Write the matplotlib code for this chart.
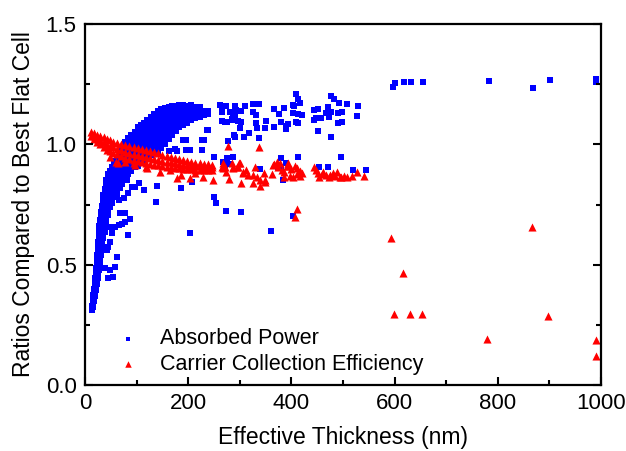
import matplotlib
matplotlib.use("Agg")
import matplotlib.pyplot as plt
from matplotlib.ticker import MultipleLocator

plt.rcParams['font.family'] = ['Liberation Sans', 'DejaVu Sans']

# absorbed power, dense band (columns of points)
band_x = [13, 15, 17, 19, 21, 23, 25, 27, 29, 31, 33, 35, 38, 41, 45, 49, 53, 57,
          62, 67, 72, 78, 84, 90, 96, 102, 108, 114, 120, 127, 134, 141, 148, 155,
          162, 169, 176, 183, 190, 198, 206, 214, 222, 230, 238]
band_y = [
    [0.31, 0.33],
    [0.325, 0.345, 0.365, 0.375],
    [0.35, 0.37, 0.39, 0.40],
    [0.37, 0.39, 0.41, 0.43, 0.445],
    [0.395, 0.415, 0.435, 0.455, 0.475, 0.485],
    [0.42, 0.44, 0.46, 0.48, 0.50, 0.52, 0.54],
    [0.445, 0.465, 0.485, 0.505, 0.525, 0.545, 0.565, 0.585, 0.595],
    [0.48, 0.50, 0.52, 0.54, 0.56, 0.58, 0.60, 0.62, 0.64, 0.66],
    [0.505, 0.525, 0.545, 0.565, 0.585, 0.605, 0.625, 0.645, 0.665, 0.685],
    [0.54, 0.56, 0.58, 0.60, 0.62, 0.64, 0.66, 0.68, 0.70, 0.72],
    [0.565, 0.585, 0.605, 0.625, 0.645, 0.665, 0.685, 0.705, 0.725, 0.745],
    [0.61, 0.63, 0.65, 0.67, 0.69, 0.71, 0.73, 0.75, 0.77, 0.79],
    [0.635, 0.655, 0.675, 0.695, 0.715, 0.735, 0.755, 0.775, 0.795, 0.815],
    [0.67, 0.69, 0.71, 0.73, 0.75, 0.77, 0.79, 0.81, 0.83, 0.85],
    [0.705, 0.725, 0.745, 0.765, 0.785, 0.805, 0.825, 0.845, 0.865, 0.875],
    [0.74, 0.76, 0.78, 0.80, 0.82, 0.84, 0.86, 0.88, 0.89],
    [0.755, 0.775, 0.795, 0.815, 0.835, 0.855, 0.875, 0.895, 0.905],
    [0.78, 0.80, 0.82, 0.84, 0.86, 0.88, 0.90, 0.92, 0.93],
    [0.795, 0.815, 0.835, 0.855, 0.875, 0.895, 0.915, 0.935, 0.945],
    [0.82, 0.84, 0.86, 0.88, 0.90, 0.92, 0.94, 0.96, 0.97],
    [0.835, 0.855, 0.875, 0.895, 0.915, 0.935, 0.955, 0.975, 0.985],
    [0.86, 0.88, 0.90, 0.92, 0.94, 0.96, 0.98, 1.00, 1.01],
    [0.875, 0.895, 0.915, 0.935, 0.955, 0.975, 0.995, 1.015, 1.025],
    [0.89, 0.91, 0.93, 0.95, 0.97, 0.99, 1.01, 1.03, 1.04],
    [0.905, 0.925, 0.945, 0.965, 0.985, 1.005, 1.025, 1.045, 1.05],
    [0.91, 0.93, 0.95, 0.97, 0.99, 1.01, 1.03, 1.05, 1.07],
    [0.925, 0.945, 0.965, 0.985, 1.005, 1.025, 1.045, 1.065, 1.08],
    [0.93, 0.95, 0.97, 0.99, 1.01, 1.03, 1.05, 1.07, 1.09],
    [0.945, 0.965, 0.985, 1.005, 1.025, 1.045, 1.065, 1.085, 1.10],
    [0.955, 0.975, 0.995, 1.015, 1.035, 1.055, 1.075, 1.095, 1.115],
    [0.965, 0.985, 1.005, 1.025, 1.045, 1.065, 1.085, 1.105, 1.125],
    [0.97, 0.99, 1.01, 1.03, 1.05, 1.07, 1.09, 1.11, 1.13, 1.14],
    [0.985, 1.005, 1.025, 1.045, 1.065, 1.085, 1.105, 1.125, 1.145],
    [1.00, 1.02, 1.04, 1.06, 1.08, 1.10, 1.12, 1.14, 1.15],
    [1.02, 1.04, 1.06, 1.08, 1.10, 1.12, 1.14, 1.155],
    [1.04, 1.06, 1.08, 1.10, 1.12, 1.14, 1.16],
    [1.055, 1.075, 1.095, 1.115, 1.135, 1.155, 1.16],
    [1.07, 1.09, 1.11, 1.13, 1.15, 1.165],
    [1.08, 1.10, 1.12, 1.14, 1.16, 1.165],
    [1.09, 1.11, 1.13, 1.15, 1.16],
    [1.10, 1.12, 1.14, 1.16, 1.165],
    [1.11, 1.13, 1.15, 1.155],
    [1.115, 1.135, 1.155],
    [1.12, 1.14],
    [1.125, 1.14],
]

# absorbed power, scattered points
power_x = [13, 39, 49, 58, 62, 55, 45, 45, 49, 42, 58, 65, 49, 52, 72, 78, 83, 78, 68,
           65, 75, 84, 91, 104, 114, 97, 58, 52, 55, 72, 81, 88,
           140, 138, 204, 162, 178, 195, 195, 230, 237, 250, 250, 253, 186, 208,
           190, 226, 239, 174, 203, 226, 262, 265, 271, 287, 276, 287, 268,
           266, 274, 266, 265, 276, 291, 293, 302, 311, 326, 337, 326, 331, 286,
           291, 284, 297, 302, 281, 331, 350, 334, 348, 318, 308, 290, 289, 278,
           337, 300, 366, 385, 376, 366, 379, 390, 393, 404, 405, 404, 408, 412,
           416, 413, 421, 408, 412, 390, 379, 389, 412, 375, 380, 339, 279, 271,
           444, 451, 443, 448, 457, 452, 467, 470, 477, 483, 493, 508, 477, 473,
           491, 499, 490, 498, 477, 530, 528, 496, 454, 470, 520, 544,
           274, 302, 361, 403, 383,
           597, 601, 619, 632, 656, 783, 869, 901, 990, 990]
power_y = [0.319, 0.485, 0.478, 0.492, 0.533, 0.450, 0.443, 0.575, 0.596, 0.562, 0.658,
           0.665, 0.658, 0.630, 0.671, 0.678, 0.623, 0.714, 0.714, 0.769, 0.775,
           0.796, 0.824, 0.838, 0.811, 0.824, 0.811, 0.769, 0.838, 0.838, 0.852,
           0.690,
           0.827, 0.762, 0.630, 0.972, 0.972, 1.017, 0.976, 1.017, 1.059, 0.949,
           0.783, 0.755, 0.817, 0.842, 1.018, 1.018, 1.059, 0.979, 0.976, 0.976,
           1.163, 1.135, 1.094, 1.101, 0.942, 0.949, 0.928,
           1.159, 1.157, 1.136, 1.095, 1.092, 1.159, 1.143, 1.138, 1.159, 1.167,
           1.166, 1.136, 1.122, 1.117, 1.121, 1.105, 1.095, 1.092, 1.133, 1.090,
           1.097, 1.069, 1.066, 1.046, 1.029, 1.029, 1.039, 1.015, 1.026, 1.066,
           1.148, 1.151, 1.125, 1.073, 1.094, 1.076, 1.083, 1.164, 1.157, 1.129,
           1.209, 1.188, 1.172, 1.124, 1.123, 1.094, 1.090, 1.063, 0.943, 0.923,
           0.946, 0.904, 0.904, 0.898, 0.920, 0.907,
           1.143, 1.146, 1.101, 1.111, 1.108, 1.057, 1.131, 1.154, 1.201, 1.187,
           1.173, 1.167, 1.133, 1.114, 1.129, 1.133, 1.090, 1.094, 1.029, 1.159,
           1.117, 0.948, 0.907, 0.904, 0.892, 0.892,
           0.724, 0.720, 0.640, 0.703, 0.852,
           1.240, 1.254, 1.257, 1.257, 1.257, 1.262, 1.232, 1.266, 1.272, 1.260]

# carrier collection efficiency, dense band
cce_band_x = [12, 18, 24, 30, 36, 42, 48, 55, 62, 70, 78, 86, 94, 102, 110, 118,
              126, 134, 142, 150, 158, 166, 174, 182, 190, 198, 206, 214, 222,
              230, 238, 246]
cce_band_y = [
    [1.035, 1.05], [1.02, 1.035, 1.047], [1.01, 1.025, 1.04], [1.0, 1.018, 1.035],
    [0.99, 1.01, 1.03], [0.978, 0.998, 1.022], [0.972, 0.992, 1.017],
    [0.965, 0.988, 1.011], [0.958, 0.982, 1.006], [0.95, 0.976, 1.002],
    [0.944, 0.97, 0.997], [0.937, 0.963, 0.993], [0.933, 0.96, 0.99],
    [0.929, 0.957, 0.986], [0.925, 0.952, 0.981], [0.921, 0.948, 0.977],
    [0.918, 0.945, 0.972], [0.915, 0.94, 0.967], [0.912, 0.936, 0.962],
    [0.908, 0.931, 0.957], [0.906, 0.928, 0.951], [0.904, 0.925, 0.947],
    [0.902, 0.921, 0.942], [0.9, 0.918, 0.937], [0.898, 0.915, 0.933],
    [0.897, 0.913, 0.93], [0.896, 0.911, 0.927], [0.895, 0.91, 0.924],
    [0.894, 0.908, 0.922], [0.894, 0.907, 0.92], [0.893, 0.905, 0.918],
    [0.893, 0.904, 0.915],
]

# carrier collection efficiency, scattered points
cce_x = [48, 61, 78, 94, 120, 145, 165, 178, 187, 203, 213, 229, 249, 63, 96, 119,
         265, 271, 274, 280, 287, 294, 298, 302, 307, 312, 316, 326, 329, 334, 339,
         347, 349, 362, 366, 374, 378, 381, 386, 391, 394, 400, 404, 407, 411, 417,
         420, 444, 448, 454, 459, 467, 472, 481, 489, 494, 502, 508, 517, 528, 541,
         268, 284, 297, 372, 393, 411, 385, 397, 417, 452, 461, 475, 484, 497,
         268, 287, 300, 307, 326, 339, 349, 365,
         278, 337, 411, 407,
         594, 617, 599, 630, 654, 866, 898, 780, 990, 990]
cce_y = [0.949, 0.928, 0.928, 0.921, 0.900, 0.886, 0.893, 0.859, 0.873, 0.859, 0.880,
         0.866, 0.852, 0.921, 0.914, 0.907,
         0.904, 0.907, 0.886, 0.855, 0.900, 0.904, 0.924, 0.841, 0.880, 0.894, 0.872,
         0.841, 0.904, 0.865, 0.827, 0.882, 0.845, 0.877, 0.918, 0.904, 0.924, 0.893,
         0.865, 0.910, 0.921, 0.896, 0.863, 0.910, 0.877, 0.890, 0.879, 0.904, 0.894,
         0.863, 0.877, 0.873, 0.866, 0.880, 0.887, 0.866, 0.869, 0.863, 0.869, 0.887,
         0.869,
         0.924, 0.921, 0.904, 0.928, 0.910, 0.900, 0.886, 0.868, 0.868, 0.882, 0.887,
         0.873, 0.869, 0.863,
         0.900, 0.907, 0.921, 0.886, 0.873, 0.852, 0.852, 0.914,
         0.993, 0.990, 0.732, 0.700,
         0.610, 0.467, 0.294, 0.294, 0.294, 0.658, 0.288, 0.191, 0.187, 0.121]

px = []
py = []
for x, ys in zip(band_x, band_y):
    for y in ys:
        px.append(x)
        py.append(y)
px += power_x
py += power_y

cx = []
cy = []
for x, ys in zip(cce_band_x, cce_band_y):
    for y in ys:
        cx.append(x)
        cy.append(y)
cx += cce_x
cy += cce_y

fig = plt.figure(figsize=(6.26, 4.51), dpi=100)
ax = fig.add_axes([0.1358, 0.1461, 0.8242, 0.8009])

ax.scatter(px, py, marker='s', s=17, color='#0000ff', linewidths=0, label='Absorbed Power')
ax.scatter(cx, cy, marker='^', s=34, color='#ff0000', linewidths=0,
           label='Carrier Collection Efficiency')

ax.set_xlim(0, 1000)
ax.set_ylim(0, 1.5)
ax.xaxis.set_major_locator(MultipleLocator(200))
ax.xaxis.set_minor_locator(MultipleLocator(100))
ax.yaxis.set_major_locator(MultipleLocator(0.5))
ax.yaxis.set_minor_locator(MultipleLocator(0.25))
ax.tick_params(which='both', direction='in', right=True, top=False, width=1.5,
               labelsize=16, pad=6)
ax.tick_params(which='major', length=6)
ax.tick_params(which='minor', length=3.5)
for sp in ax.spines.values():
    sp.set_linewidth(1.6)

ax.set_xlabel('Effective Thickness (nm)', fontsize=16.5, labelpad=8)
ax.set_ylabel('Ratios Compared to Best Flat Cell', fontsize=16.5, labelpad=8)

ax.legend(loc='lower left', bbox_to_anchor=(0.005, -0.025), frameon=False, fontsize=15.5,
          handletextpad=0.45, labelspacing=0.2, markerscale=0.8)

fig.savefig('out.png', dpi=100)
